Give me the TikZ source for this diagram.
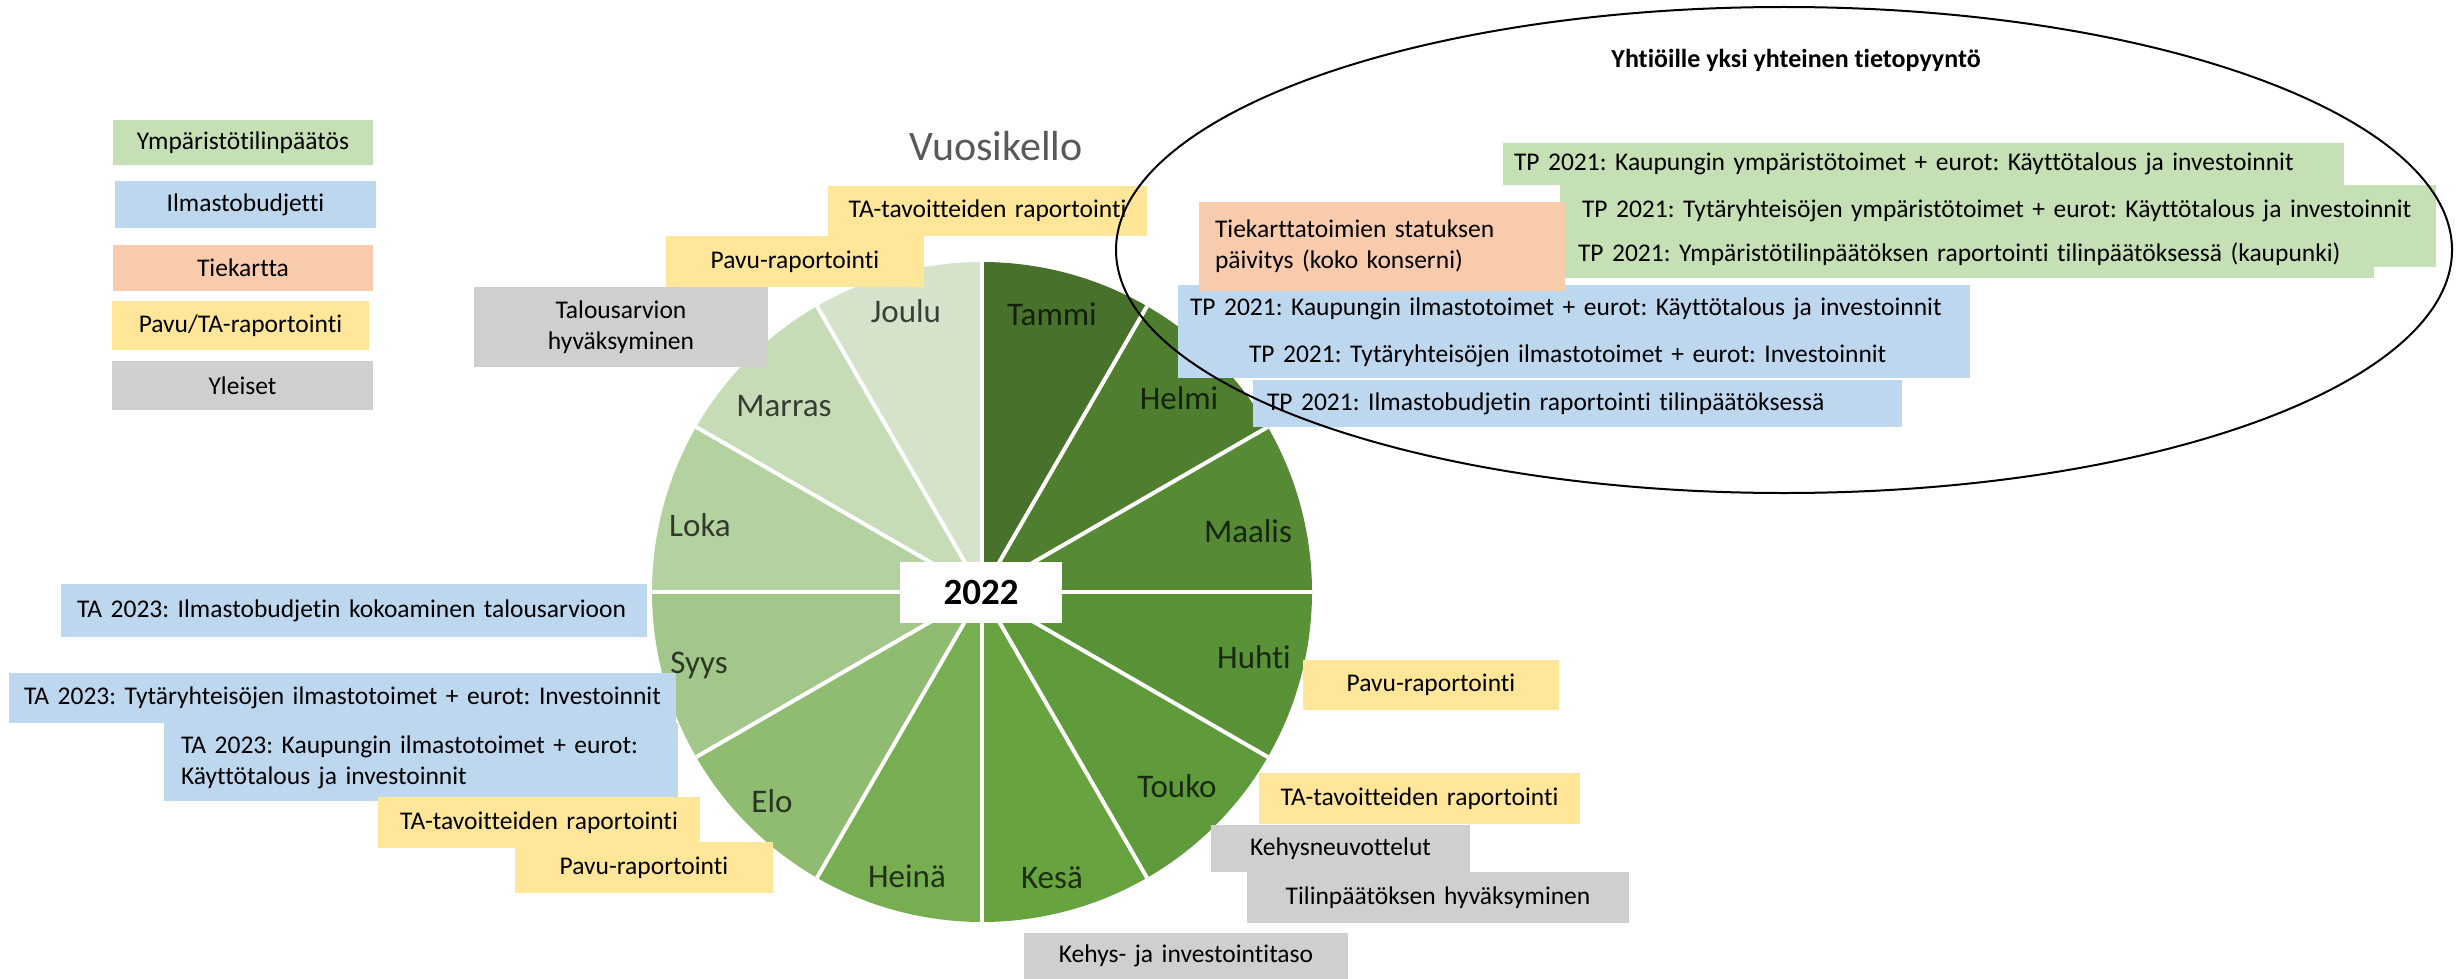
\documentclass[tikz,border=0pt]{standalone}
\usepackage{fontspec}
\setmainfont{Carlito}[Ligatures={NoCommon}, RawFeature={-liga;-dlig}]
\usetikzlibrary{shapes.geometric}
\definecolor{cgreen}{HTML}{C5E0B4}
\definecolor{cblue}{HTML}{BDD7EE}
\definecolor{corange}{HTML}{F8CBAD}
\definecolor{cyel}{HTML}{FFE699}
\definecolor{cgray}{HTML}{D0CECE}
\definecolor{mA}{HTML}{48722B}
\definecolor{mB}{HTML}{4F7E2F}
\definecolor{mC}{HTML}{568A35}
\definecolor{mD}{HTML}{5A9238}
\definecolor{mE}{HTML}{5F9A3B}
\definecolor{mF}{HTML}{67A33F}
\definecolor{mG}{HTML}{78AE52}
\definecolor{mH}{HTML}{8FBC71}
\definecolor{mI}{HTML}{A3C78A}
\definecolor{mJ}{HTML}{B4D1A0}
\definecolor{mK}{HTML}{C5DCB6}
\definecolor{mL}{HTML}{D4E3CA}
\definecolor{vgray}{HTML}{595959}
\begin{document}
\frenchspacing
\begin{tikzpicture}[x=1pt,y=-1pt,
  box/.style={anchor=north west, inner ysep=0pt, outer sep=0pt, font=\fontsize{25.5}{31}\selectfont, text=black},
  cbox/.style={box, align=center, inner xsep=0pt},
  lbox/.style={box, align=left},
  month/.style={anchor=base, inner sep=0pt, font=\fontsize{33}{38}\selectfont, text=black, text opacity=0.72}]
\fill[white] (0,0) rectangle (2456,979);
\path[use as bounding box] (0,0) rectangle (2456,979);

% ---------- pie ----------
\coordinate (C) at (982,592);
\foreach \i/\c in {0/mA,1/mB,2/mC,3/mD,4/mE,5/mF,6/mG,7/mH,8/mI,9/mJ,10/mK,11/mL}{
  \pgfmathsetmacro\sa{30*\i-90}
  \pgfmathsetmacro\ea{30*\i-60}
  \fill[\c] (C) -- ++(\sa:330) arc[start angle=\sa, end angle=\ea, radius=330] -- cycle;
}
\foreach \a in {0,30,...,330}{
  \draw[white, line width=4pt] (C) -- ++(\a:330);
}
\node[month] (tammi) at (1052,325) {Tammi};
\node[month] (helmi) at (1179,409) {Helmi};
\node[month] (maalis) at (1248,542) {Maalis};
\node[month] (huhti) at (1254,668) {Huhti};
\node[month] (touko) at (1177,797) {Touko};
\node[month] (kesa) at (1052,888) {Kesä};
\node[month] (heina) at (907,887) {Heinä};
\node[month] (elo) at (772,812) {Elo};
\node[month] (syys) at (699,673) {Syys};
\node[month] (loka) at (700,536) {Loka};
\node[month] (marras) at (784,416) {Marras};
\node[month] (joulu) at (906,322) {Joulu};
\node[fill=white, minimum width=162pt, minimum height=61pt, inner sep=0pt, font=\fontsize{37}{40}\selectfont\bfseries] (year) at (981,592) {2022};

\node[anchor=base, inner sep=0pt, text=vgray, font=\fontsize{42}{46}\selectfont] (vuosi) at (996,160) {Vuosikello};

% ---------- legend ----------
\node[cbox, fill=cgreen, minimum width=260pt, text width=260pt, minimum height=45pt] (lg1) at (113,120) {Ympäristötilinpäätös};
\node[cbox, fill=cblue, minimum width=261pt, text width=261pt, minimum height=47pt] (lg2) at (115,181) {Ilmastobudjetti};
\node[cbox, fill=corange, minimum width=260pt, text width=260pt, minimum height=46pt] (lg3) at (113,245) {Tiekartta};
\node[cbox, fill=cyel, minimum width=257pt, text width=257pt, minimum height=49pt] (lg4) at (112,301) {Pavu/TA-raportointi};
\node[cbox, fill=cgray, minimum width=261pt, text width=261pt, minimum height=49pt] (lg5) at (112,361) {Yleiset};

% ---------- top ----------
\node[cbox, fill=cyel, minimum width=319pt, text width=319pt, minimum height=50pt] (t1) at (828,186) {TA-tavoitteiden raportointi};
\node[cbox, fill=cyel, minimum width=258pt, text width=258pt, minimum height=51pt] (t2) at (666,236) {Pavu-raportointi};
\node[cbox, fill=cgray, minimum width=294pt, text width=294pt, minimum height=80pt] (t3) at (474,287) {Talousarvion\\hyväksyminen};

% ---------- left ----------
\node[lbox, fill=cblue, minimum width=586pt, text width=554pt, inner xsep=16pt, minimum height=53pt] (lb1) at (61,584) {TA 2023: Ilmastobudjetin kokoaminen talousarvioon};
\node[lbox, fill=cblue, minimum width=667pt, text width=637pt, inner xsep=15pt, minimum height=50pt] (lb2) at (9,673) {TA 2023: Tytäryhteisöjen ilmastotoimet + eurot: Investoinnit};
\node[lbox, fill=cblue, minimum width=514pt, text width=480pt, inner xsep=17pt, minimum height=78pt] (lb3) at (164,723) {TA 2023: Kaupungin ilmastotoimet + eurot:\\Käyttötalous ja investoinnit};
\node[cbox, fill=cyel, minimum width=322pt, text width=322pt, minimum height=51pt] (ly1) at (378,797) {TA-tavoitteiden raportointi};
\node[cbox, fill=cyel, minimum width=258pt, text width=258pt, minimum height=51pt] (ly2) at (515,842) {Pavu-raportointi};

% ---------- right ----------
\node[cbox, fill=cyel, minimum width=256pt, text width=256pt, minimum height=50pt] (ry1) at (1303,660) {Pavu-raportointi};
\node[cbox, fill=cyel, minimum width=321pt, text width=321pt, minimum height=51pt] (ry2) at (1259,773) {TA-tavoitteiden raportointi};
\node[cbox, fill=cgray, minimum width=259pt, text width=259pt, minimum height=47pt] (rg1) at (1211,825) {Kehysneuvottelut};
\node[cbox, fill=cgray, minimum width=382pt, text width=382pt, minimum height=51pt] (rg2) at (1247,872) {Tilinpäätöksen hyväksyminen};
\node[cbox, fill=cgray, minimum width=324pt, text width=324pt, minimum height=46pt] (rg3) at (1024,933) {Kehys- ja investointitaso};

% ---------- request ellipse contents ----------
\node[lbox, fill=cgreen, minimum width=841pt, text width=819pt, inner xsep=11pt, minimum height=42pt] (g1) at (1503,143) {TP 2021: Kaupungin ympäristötoimet + eurot: Käyttötalous ja investoinnit};
\fill[cgreen] (2300,230) rectangle (2436,267);
\node[lbox, fill=cgreen, minimum width=876pt, text width=832pt, inner xsep=22pt, minimum height=51pt] (g2) at (1560,185) {TP 2021: Tytäryhteisöjen ympäristötoimet + eurot: Käyttötalous ja investoinnit};
\node[lbox, fill=cgreen, minimum width=814pt, text width=778pt, inner xsep=18pt, minimum height=47pt] (g3) at (1560,231) {TP 2021: Ympäristötilinpäätöksen raportointi tilinpäätöksessä (kaupunki)};
\node[lbox, fill=cblue, minimum width=792pt, text width=768pt, inner xsep=12pt, minimum height=48pt] (b1) at (1178,285) {TP 2021: Kaupungin ilmastotoimet + eurot: Käyttötalous ja investoinnit};
\node[lbox, fill=cblue, minimum width=792pt, text width=650pt, inner xsep=71pt, minimum height=45pt] (b2) at (1178,333) {TP 2021: Tytäryhteisöjen ilmastotoimet + eurot: Investoinnit};
\node[lbox, fill=cblue, minimum width=649pt, text width=621pt, inner xsep=14pt, minimum height=47pt] (b3) at (1253,380) {TP 2021: Ilmastobudjetin raportointi tilinpäätöksessä};
\node[lbox, fill=corange, minimum width=366pt, text width=334pt, inner xsep=16pt, minimum height=89pt] (ora) at (1199,202) {Tiekarttatoimien statuksen\\päivitys (koko konserni)};

\node[draw=black, line width=2pt, ellipse, inner sep=0pt, minimum width=1336pt, minimum height=486pt] (req) at (1784,250) {};
\node[anchor=base, inner sep=0pt, font=\fontsize{26}{30}\selectfont\bfseries] (reqtitle) at (1796,68) {Yhtiöille yksi yhteinen tietopyyntö};
\end{tikzpicture}
\end{document}
